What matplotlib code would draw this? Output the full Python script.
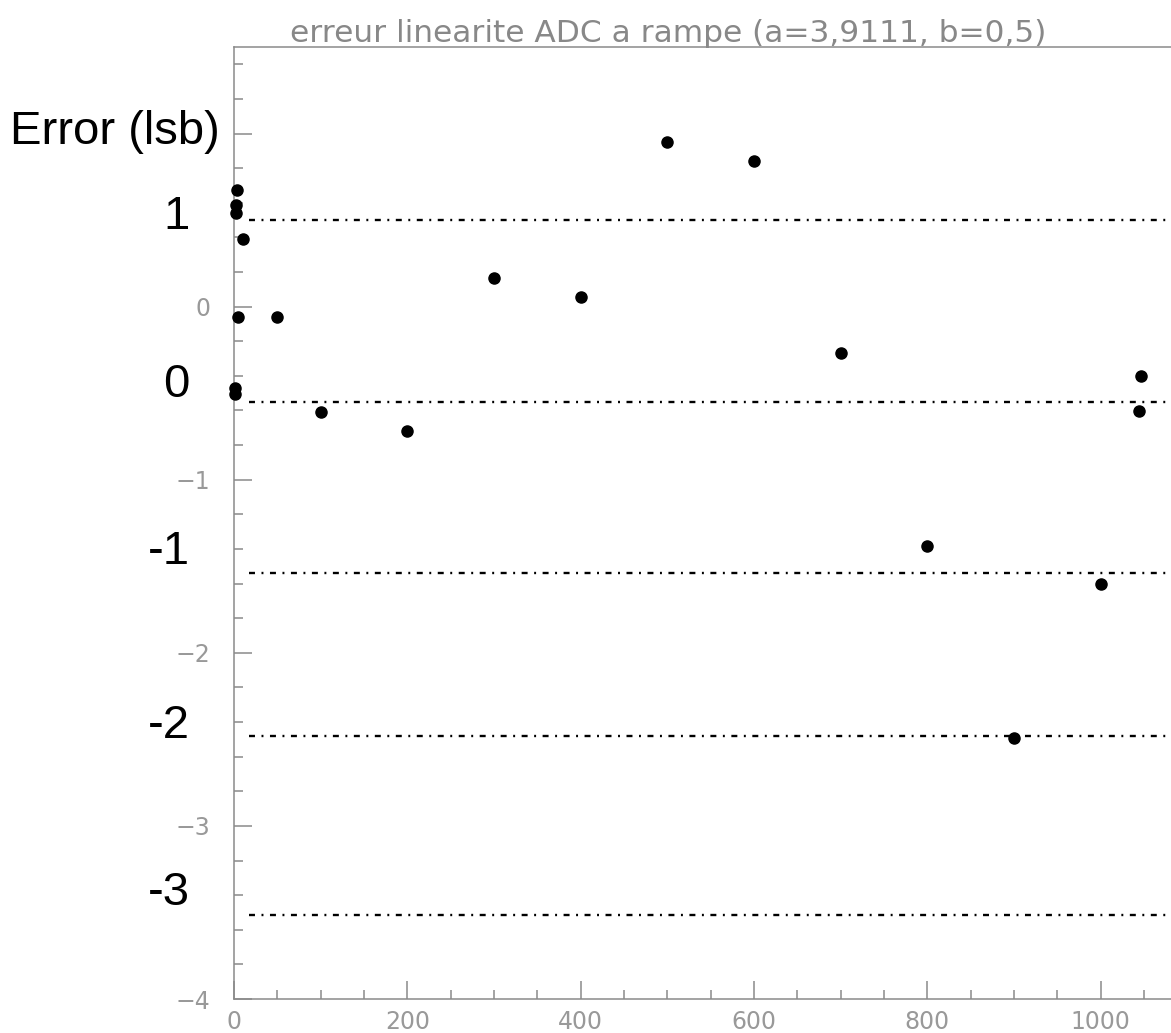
import matplotlib
matplotlib.use("Agg")
import matplotlib.pyplot as plt
from matplotlib.ticker import MultipleLocator, FuncFormatter

# measured points (code value vs error)
codes = [3, 2, 2, 10, 5, 50, 1, 1, 100, 200, 300, 400, 500, 600, 700, 800, 900, 1000, 1046, 1044]
errors = [0.676, 0.59, 0.543, 0.393, -0.058, -0.058, -0.468, -0.503, -0.607, -0.717,
          0.168, 0.058, 0.954, 0.844, -0.266, -1.382, -2.491, -1.601, -0.399, -0.601]

# hand-drawn reference lines and their labels
ref_levels = [0.503, -0.549, -1.54, -2.48, -3.514]
ref_labels = ["1", "0", "-1", "-2", "-3"]
label_levels = [0.52, -0.45, -1.42, -2.42, -3.39]

title = "erreur linearite ADC a rampe (a=3,9111, b=0,5)"

plt.rcParams["lines.scale_dashes"] = False
grey = "#8a8a8a"

fig = plt.figure(figsize=(11.71, 10.33), dpi=100)
ax = fig.add_axes([0.1998, 0.0329, 0.8142, 0.9216])

ax.set_xlim(0, 1100)
ax.set_ylim(-4, 1.5)

for lvl in ref_levels:
    ax.plot([17, 1100], [lvl, lvl], color="black", lw=1.7,
            dashes=[4.3, 4.7, 1.4, 4.7], clip_on=True)

ax.plot(codes, errors, "o", color="black", markersize=8, clip_on=False, zorder=5)

ax.xaxis.set_major_locator(MultipleLocator(200))
ax.xaxis.set_minor_locator(MultipleLocator(50))
ax.yaxis.set_major_locator(MultipleLocator(1))
ax.yaxis.set_minor_locator(MultipleLocator(0.2))
# the "1" label is hidden under the big "Error (lsb)" text in the original
ax.yaxis.set_major_formatter(FuncFormatter(
    lambda v, p: "" if abs(v - 1) < 1e-6 else "%d" % round(v) if v >= 0 else "\u2212%d" % round(-v)))

ax.tick_params(which="both", direction="in", color=grey, width=1.1,
               labelcolor="#999999", labelsize=17, top=False, right=False)
ax.tick_params(which="major", length=13)
ax.tick_params(which="minor", length=6.5)
ax.tick_params(axis="y", pad=17)
ax.tick_params(axis="x", pad=8)

for s in ax.spines.values():
    s.set_color(grey)
    s.set_linewidth(1.1)

fig.text(0.5705, 0.9593, title, color="#888888", fontsize=22.5,
         ha="center", va="baseline")

# big overlay labels
fig.text(0.0085, 1 - 132 / 1033, "Error (lsb)", fontsize=34, family="Liberation Sans",
         va="center", ha="left", color="black",
         bbox=dict(facecolor="white", edgecolor="none", pad=2))
for lvl, lab in zip(label_levels, ref_labels):
    ax.annotate(lab, xy=(0, lvl), xycoords="data", xytext=(-32, 0),
                textcoords="offset points", fontsize=34, family="Liberation Sans",
                ha="right", va="center", color="black",
                bbox=dict(facecolor="white", edgecolor="none", pad=2),
                annotation_clip=False)

fig.savefig("out.png", dpi=100)
